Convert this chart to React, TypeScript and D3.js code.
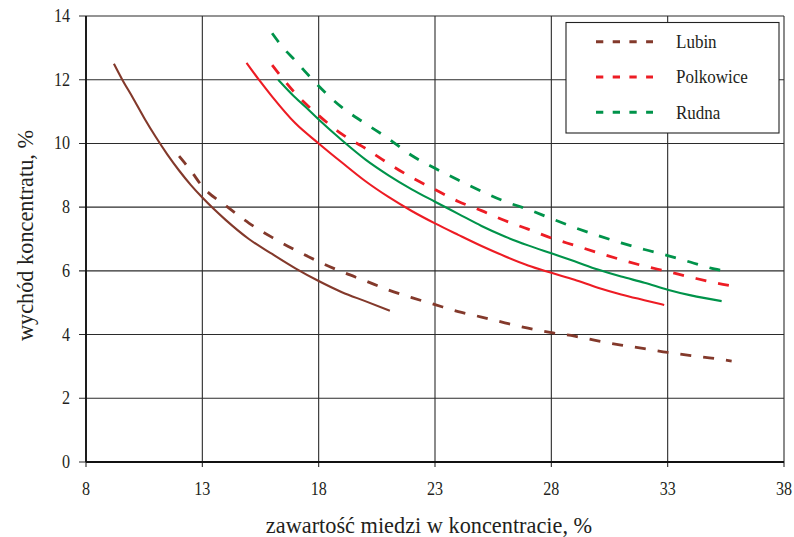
import React from 'react';
import * as d3 from 'd3';

// x = zawartość miedzi w koncentracie (%), y = wychód koncentratu (%)
const lubinSolidX = [9.2, 9.56, 10, 10.5, 11, 11.5, 12, 12.5, 13, 14, 15, 16, 17, 18, 19, 20, 21.06];
const lubinSolidY = [12.5, 12.0, 11.45, 10.8, 10.2, 9.65, 9.15, 8.7, 8.3, 7.6, 7.0, 6.53, 6.08, 5.68, 5.33, 5.05, 4.75];

const lubinDashX = [12, 12.5, 13, 14, 15, 16, 17, 18, 19, 20, 21, 22, 23, 24, 25, 26, 27, 28, 29, 30, 31, 32, 33, 34, 35, 35.75];
const lubinDashY = [9.6, 9.15, 8.65, 8.05, 7.5, 7.05, 6.65, 6.29, 5.97, 5.69, 5.4, 5.16, 4.94, 4.72, 4.55, 4.37, 4.2, 4.06, 3.95, 3.8, 3.67, 3.56, 3.44, 3.34, 3.25, 3.17];

const polkSolidX = [14.9, 15.43, 16, 17, 18, 19, 20, 21, 22, 23, 24, 25, 26, 27, 28, 29, 30, 31, 32, 32.85];
const polkSolidY = [12.53, 12.0, 11.47, 10.63, 10.0, 9.4, 8.82, 8.32, 7.88, 7.49, 7.13, 6.78, 6.46, 6.17, 5.94, 5.72, 5.47, 5.26, 5.08, 4.93];

const polkDashX = [16, 16.5, 17, 18, 19, 20, 21, 22, 23, 24, 25, 26, 27, 28, 29, 30, 31, 32, 33, 34, 35, 35.75];
const polkDashY = [12.46, 12.0, 11.57, 10.88, 10.29, 9.85, 9.37, 8.93, 8.55, 8.18, 7.89, 7.58, 7.31, 7.03, 6.8, 6.57, 6.35, 6.15, 5.98, 5.8, 5.63, 5.53];

const rudnaSolidX = [16.26, 16.87, 17.44, 18, 19, 20, 21, 22, 23, 24, 25, 26, 27, 28, 29, 30, 31, 32, 33, 34, 35.32];
const rudnaSolidY = [12.0, 11.53, 11.14, 10.75, 10.1, 9.5, 9.0, 8.56, 8.17, 7.79, 7.41, 7.08, 6.8, 6.55, 6.3, 6.04, 5.82, 5.63, 5.41, 5.23, 5.05];

const rudnaDashX = [16, 16.5, 17, 17.5, 18, 19, 20, 21, 22, 23, 24, 25, 26, 27, 28, 29, 30, 31, 32, 33, 34, 35, 35.75];
const rudnaDashY = [13.46, 12.98, 12.6, 12.19, 11.8, 11.13, 10.63, 10.15, 9.62, 9.22, 8.85, 8.5, 8.18, 7.93, 7.64, 7.36, 7.11, 6.88, 6.67, 6.48, 6.27, 6.06, 5.96];

const xTicks = [8, 13, 18, 23, 28, 33, 38];
const yTicks = [0, 2, 4, 6, 8, 10, 12, 14];

const legendNames = ['Lubin', 'Polkowice', 'Rudna'];
const colors = ['#83392B', '#ED1C24', '#00934A'];

const series = [
  { x: lubinSolidX, y: lubinSolidY, color: colors[0], dashed: false },
  { x: lubinDashX, y: lubinDashY, color: colors[0], dashed: true },
  { x: polkSolidX, y: polkSolidY, color: colors[1], dashed: false },
  { x: polkDashX, y: polkDashY, color: colors[1], dashed: true },
  { x: rudnaSolidX, y: rudnaSolidY, color: colors[2], dashed: false },
  { x: rudnaDashX, y: rudnaDashY, color: colors[2], dashed: true },
];

const W = 794;
const H = 537;
const font = '"Liberation Serif", "Times New Roman", serif';
const textColor = '#231F20';

export default function App() {
  const x = d3.scaleLinear().domain([8, 38]).range([86, 784]);
  const y = d3.scaleLinear().domain([0, 14]).range([462, 16]);

  const line = d3
    .line<[number, number]>()
    .x(d => x(d[0]))
    .y(d => y(d[1]))
    .curve(d3.curveMonotoneX);

  return (
    <svg width={W} height={H} style={{ position: 'absolute', left: 0, top: 0, background: '#fff' }}>
      {/* grid */}
      {xTicks.map(t => (
        <line key={'gx' + t} x1={x(t)} x2={x(t)} y1={y(14)} y2={y(0) + 5} stroke="#2b2b2b" strokeWidth={1.1} />
      ))}
      {yTicks.map(t => (
        <line key={'gy' + t} x1={x(8) - 7} x2={x(38)} y1={y(t)} y2={y(t)} stroke="#2b2b2b" strokeWidth={1.1} />
      ))}
      <line x1={x(8)} x2={x(38)} y1={y(0)} y2={y(0)} stroke="#111" strokeWidth={1.8} />
      <line x1={x(8)} x2={x(8)} y1={y(0)} y2={y(14)} stroke="#111" strokeWidth={1.8} />

      {/* tick labels */}
      {xTicks.map(t => (
        <text
          key={'tx' + t}
          transform={`translate(${x(t)},495) scale(0.92,1.05)`}
          textAnchor="middle"
          fontFamily={font}
          fontSize={17.5}
          fill={textColor}
        >
          {t}
        </text>
      ))}
      {yTicks.map(t => (
        <text
          key={'ty' + t}
          transform={`translate(70,${y(t) + 6}) scale(0.92,1.05)`}
          textAnchor="end"
          fontFamily={font}
          fontSize={17.5}
          fill={textColor}
        >
          {t}
        </text>
      ))}

      {/* axis titles */}
      <text
        transform="translate(429,533) scale(0.93,1)"
        textAnchor="middle"
        fontFamily={font}
        fontSize={24}
        fill={textColor}
      >
        zawartość miedzi w koncentracie, %
      </text>
      <text
        transform="translate(33,235.5) rotate(-90) scale(0.93,1)"
        textAnchor="middle"
        fontFamily={font}
        fontSize={24}
        fill={textColor}
      >
        wychód koncentratu, %
      </text>

      {/* curves */}
      {series.map((s, i) => (
        <path
          key={'s' + i}
          d={line(s.x.map((v, j) => [v, s.y[j]] as [number, number])) || ''}
          fill="none"
          stroke={s.color}
          strokeWidth={s.dashed ? 2.8 : 2.1}
          strokeDasharray={s.dashed ? '11 12' : undefined}
        />
      ))}

      {/* legend */}
      <rect x={566} y={22.5} width={213} height={110.5} fill="#fff" stroke="#222" strokeWidth={1.1} />
      {legendNames.map((n, i) => (
        <g key={'lg' + n}>
          <line
            x1={596}
            x2={653}
            y1={41.7 + i * 35.3}
            y2={41.7 + i * 35.3}
            stroke={colors[i]}
            strokeWidth={3}
            strokeDasharray="7.3 9.4"
          />
          <text
            transform={`translate(676,${47.5 + i * 35.8}) scale(0.91,1)`}
            fontFamily={font}
            fontSize={18.7}
            fill={textColor}
          >
            {n}
          </text>
        </g>
      ))}
    </svg>
  );
}
